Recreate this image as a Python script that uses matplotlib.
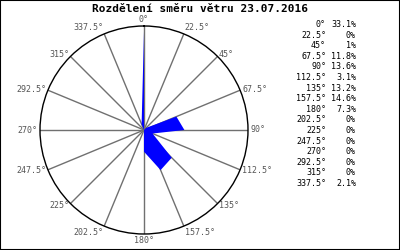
import matplotlib
matplotlib.use('Agg')
import matplotlib.pyplot as plt
from matplotlib.patches import Rectangle
import numpy as np

# Smery (stupne) a podil v procentech
directions = [0, 22.5, 45, 67.5, 90, 112.5, 135, 157.5, 180, 202.5, 225, 247.5, 270, 292.5, 315, 337.5]
shares = [33.1, 0, 1, 11.8, 13.6, 3.1, 13.2, 14.6, 7.3, 0, 0, 0, 0, 0, 0, 2.1]
share_labels = ['33.1%', '0%', '1%', '11.8%', '13.6%', '3.1%', '13.2%', '14.6%', '7.3%',
                '0%', '0%', '0%', '0%', '0%', '0%', '2.1%']
title = 'Rozdělení směru větru 23.07.2016'

def fmt_deg(d):
    return (f'{d:g}') + '°'

plt.rcParams['font.family'] = ['DejaVu Sans Mono']

fig = plt.figure(figsize=(4, 2.5), dpi=100)
fig.patch.set_facecolor('white')
fig.add_artist(Rectangle((0, 0), 1, 1, transform=fig.transFigure, fill=False,
                         edgecolor='black', linewidth=1.5))

ax = fig.add_axes([0.1, 0.064, 0.52, 0.832], projection='polar')
ax.set_theta_zero_location('N')
ax.set_theta_direction(-1)
rmax = 35
ax.set_ylim(0, rmax)

theta = np.deg2rad(directions + [directions[0]])
r = shares + [shares[0]]
ax.fill(theta, r, color='#0000ff', linewidth=0, zorder=3)

ax.set_thetagrids(directions, labels=[''] * len(directions))
ax.set_rgrids([])
ax.grid(True, color='#707070', linewidth=1)
ax.spines['polar'].set_color('black')
ax.spines['polar'].set_linewidth(1)

# popisky uhlu okolo kruhu
for d in directions:
    s = np.sin(np.deg2rad(d))
    c = np.cos(np.deg2rad(d))
    ha = 'left' if s > 0.1 else ('right' if s < -0.1 else 'center')
    va = 'bottom' if c > 0.9 else ('top' if c < -0.9 else 'center')
    ax.text(np.deg2rad(d), rmax * 1.02, fmt_deg(d), ha=ha, va=va,
            fontsize=6, color='#555555')

fig.text(0.5, 0.966, title, ha='center', va='center', fontsize=8, fontweight='bold')

# legenda vpravo
y0 = 1 - 24.5 / 250
dy = 10.6 / 250
for i, (d, lab) in enumerate(zip(directions, share_labels)):
    y = y0 - i * dy
    fig.text(326 / 400, y, fmt_deg(d), ha='right', va='center', fontsize=6)
    fig.text(356 / 400, y, lab, ha='right', va='center', fontsize=6)

fig.savefig('out.png', dpi=100)
